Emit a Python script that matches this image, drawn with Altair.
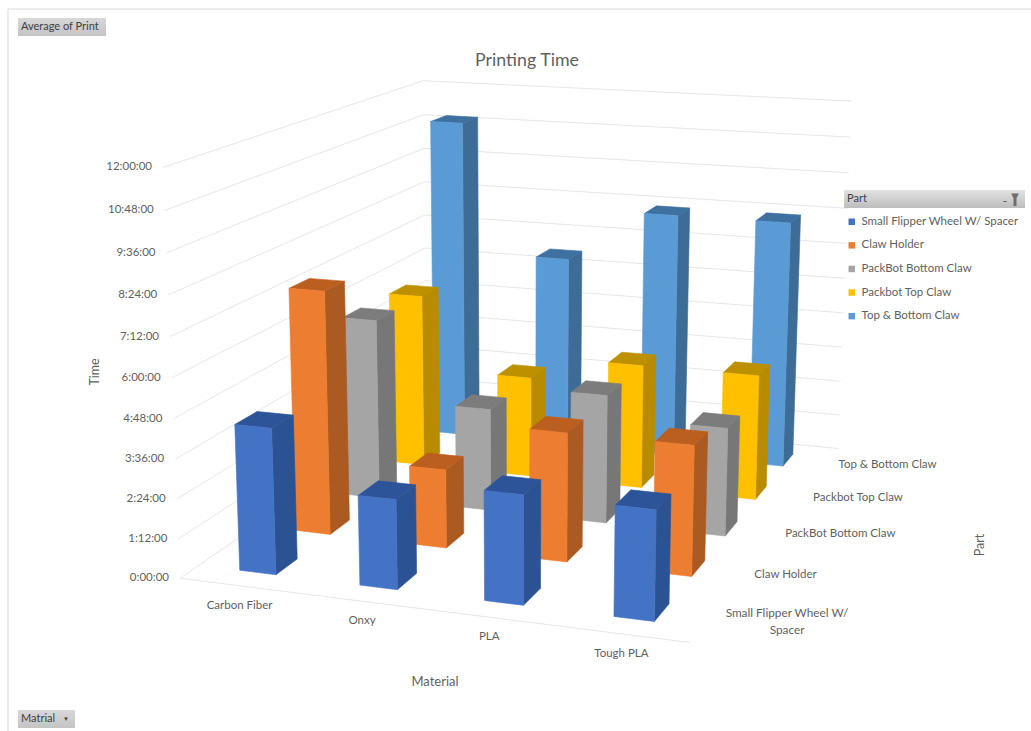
import altair as alt
import numpy as np
import pandas as pd

# --- chart values -----------------------------------------------------------
MATERIALS = ["Carbon Fiber", "Onxy", "PLA", "Tough PLA"]
PARTS = ["Small Flipper Wheel W/ Spacer", "Claw Holder", "PackBot Bottom Claw",
         "Packbot Top Claw", "Top & Bottom Claw"]
# average print time in hours, one list per part, in MATERIALS order
SMALL_FLIPPER = [4.43, 2.7, 3.25, 3.23]
CLAW_HOLDER = [7.62, 2.45, 3.97, 3.97]
PACKBOT_BOTTOM = [5.85, 3.3, 4.1, 3.42]
PACKBOT_TOP = [5.8, 3.35, 4.1, 4.1]
TOP_BOTTOM = [11.0, 6.55, 8.3, 8.3]
HOURS = [SMALL_FLIPPER, CLAW_HOLDER, PACKBOT_BOTTOM, PACKBOT_TOP, TOP_BOTTOM]
TICK_HOURS = [0, 1.2, 2.4, 3.6, 4.8, 6, 7.2, 8.4, 9.6, 10.8, 12]
TICK_LABELS = ["0:00:00", "1:12:00", "2:24:00", "3:36:00", "4:48:00", "6:00:00",
               "7:12:00", "8:24:00", "9:36:00", "10:48:00", "12:00:00"]

# --- styling ----------------------------------------------------------------
FRONT = ["#4472C4", "#ED7D31", "#A5A5A5", "#FFC000", "#5B9BD5"]
SIDE = ["#2B5292", "#AB5A22", "#777777", "#B88B00", "#3D6C97"]
TOP = ["#2D5499", "#BA5F20", "#7C7C7C", "#BD9000", "#3E70A0"]
FONT = "Lato"
GREY = "#5F5F5F"
WIDTH, HEIGHT = 1031, 731
BAR_W, BAR_D = 0.305, 0.38

# Perspective camera: (material slot, part slot, hours, 1) -> homogeneous screen point
CAMERA = np.array([
    [114.77522065594567, 71.9495551445175, -2.055194173488397, 179.97760757973364],
    [4.325036727684138, -12.241239185902026, -34.89450898159532, 578.2482263590209],
    [-0.018256631486772916, 0.052888305164471176, -0.003943885451654766, 1.0],
])


def project(m, p, v):
    h = CAMERA @ np.array([m, p, v, 1.0])
    return h[0] / h[2], h[1] / h[2]


def polyline(rows, key, corners, shade=None):
    for k, (m, p, v) in enumerate(corners):
        x, y = project(m, p, v)
        rows.append({"key": key, "k": k, "x": x, "y": y, "shade": shade})


# back rows first, so nearer bars paint over farther ones
faces = []
for j in reversed(range(len(PARTS))):
    for i in range(len(MATERIALS)):
        v = HOURS[j][i]
        m0, m1 = i + 0.5 - BAR_W / 2, i + 0.5 + BAR_W / 2
        p0, p1 = j + 0.5 - BAR_D / 2, j + 0.5 + BAR_D / 2
        tag = f"{j}-{i}"
        polyline(faces, f"{tag}-side", [(m1, p0, 0), (m1, p1, 0), (m1, p1, v), (m1, p0, v)], PARTS[j] + " side")
        polyline(faces, f"{tag}-top", [(m0, p0, v), (m1, p0, v), (m1, p1, v), (m0, p1, v)], PARTS[j] + " top")
        polyline(faces, f"{tag}-front", [(m0, p0, 0), (m1, p0, 0), (m1, p0, v), (m0, p0, v)], PARTS[j])
faces = pd.DataFrame(faces)

walls = []
for t in TICK_HOURS:
    polyline(walls, f"wall-{t}", [(0, 0, t), (0, 5, t), (4, 5, t)])
polyline(walls, "floor-front", [(0, 0, 0), (4, 0, 0)])
walls = pd.DataFrame(walls)

x_enc = alt.X("x:Q", scale=alt.Scale(domain=[0, WIDTH], range=[0, WIDTH]), axis=None)
y_enc = alt.Y("y:Q", scale=alt.Scale(domain=[0, HEIGHT], range=[0, HEIGHT]), axis=None)


def label_table(items):
    out = []
    for text, pos in items:
        x, y = project(*pos)
        out.append({"text": text, "x": x, "y": y})
    return pd.DataFrame(out)


def labels(table, **mark):
    return alt.Chart(table).mark_text(font=FONT, color=GREY, **mark).encode(x=x_enc, y=y_enc, text="text:N")


def chrome_rect(x0, x1, y0, y1, top, bottom):
    fill = alt.Gradient(gradient="linear", x1=0, x2=0, y1=0, y2=1,
                        stops=[alt.GradientStop(color=top, offset=0), alt.GradientStop(color=bottom, offset=1)])
    return alt.Chart(pd.DataFrame({"a": [0]})).mark_rect(color=fill).encode(
        x=alt.value(x0), x2=alt.value(x1), y=alt.value(y0), y2=alt.value(y1))


def chrome_text(text, x, y, size=11, color="#3F3F3F", align="left", **mark):
    return alt.Chart(pd.DataFrame({"text": [text]})).mark_text(
        font=FONT, fontSize=size, color=color, align=align, baseline="middle", **mark
    ).encode(x=alt.value(x), y=alt.value(y), text="text:N")


def frame_rule(x0, x1, y0, y1):
    return alt.Chart(pd.DataFrame({"a": [0]})).mark_rule(color="#D9D9D9", strokeWidth=1).encode(
        x=alt.value(x0), x2=alt.value(x1), y=alt.value(y0), y2=alt.value(y1))


grid = alt.Chart(walls).mark_line(color="#E6E6E6", strokeWidth=1).encode(
    x=x_enc, y=y_enc, detail="key:N", order="k:Q")

shade_domain = PARTS + [p + " side" for p in PARTS] + [p + " top" for p in PARTS]
shade_range = FRONT + SIDE + TOP
shade_scale = alt.Scale(domain=shade_domain, range=shade_range)
bars = alt.Chart(faces).mark_line(filled=True, strokeWidth=0.6, interpolate="linear-closed").encode(
    x=x_enc, y=y_enc, detail="key:N", order="k:Q",
    color=alt.Color("shade:N", scale=shade_scale, legend=alt.Legend(
        values=PARTS, title=None, orient="none", legendX=846, legendY=216,
        symbolType="square", symbolSize=42, symbolStrokeWidth=0, labelFont=FONT,
        labelFontSize=11.5, labelColor=GREY, rowPadding=10.6, labelOffset=4, labelLimit=200)),
    stroke=alt.Stroke("shade:N", scale=shade_scale, legend=None),
)

tick_labels = labels(label_table([(t, (0, 0, h)) for t, h in zip(TICK_LABELS, TICK_HOURS)]),
                     align="right", baseline="middle", fontSize=11.5, dx=-11)
material_labels = labels(label_table([(m, (i + 0.5, 0, 0)) for i, m in enumerate(MATERIALS)]),
                         align="center", baseline="middle", fontSize=11.5, dy=20)
part_labels = labels(label_table([(p, (4, j + 0.5, 0)) for j, p in enumerate(PARTS) if j > 0]),
                     align="left", baseline="middle", fontSize=11.5, dx=12, dy=1)
wrapped_label = labels(label_table([("Small Flipper Wheel W/\nSpacer", (4, 0.5, 0))]),
                       align="center", baseline="middle", fontSize=11.8, dx=79, dy=-5, lineBreak="\n", lineHeight=17)

chart = alt.layer(
    frame_rule(8, WIDTH, 9, 9),
    frame_rule(8, 8, 9, HEIGHT),
    chrome_rect(18, 106, 18, 36, "#D8D8D8", "#C4C4C4"),
    chrome_text("Average of Print", 21, 27, size=11),
    chrome_rect(18, 75, 710, 728, "#D8D8D8", "#C4C4C4"),
    chrome_text("Matrial", 21, 719, size=11),
    chrome_text("▼", 66, 719, size=6, align="center"),
    chrome_text("Printing Time", 527, 61, size=17.8, color=GREY, align="center"),
    grid,
    bars,
    tick_labels,
    material_labels,
    part_labels,
    wrapped_label,
    chrome_text("Time", 95, 372, size=12.5, color=GREY, angle=270, align="center"),
    chrome_text("Material", 435, 682, size=13, color=GREY, align="center"),
    chrome_text("Part", 980, 545, size=12.5, color=GREY, angle=270, align="center"),
    chrome_rect(844, 1025, 190, 208, "#E2E2E2", "#BDBDBD"),
    chrome_text("Part", 847, 199, size=11),
    chrome_text("-", 1005, 201, size=12, color="#505050", align="center"),
    chrome_text("▼", 1015, 197, size=13, color="#6E6E6E", align="center"),
    chrome_rect(1013.5, 1016.5, 199, 206, "#6E6E6E", "#6E6E6E"),
).properties(
    width=WIDTH, height=HEIGHT, padding=0, autosize=alt.AutoSizeParams(type="none"), background="white"
).configure_view(stroke=None)

chart.save("out.html", embed_options={"renderer": "svg", "actions": False})
